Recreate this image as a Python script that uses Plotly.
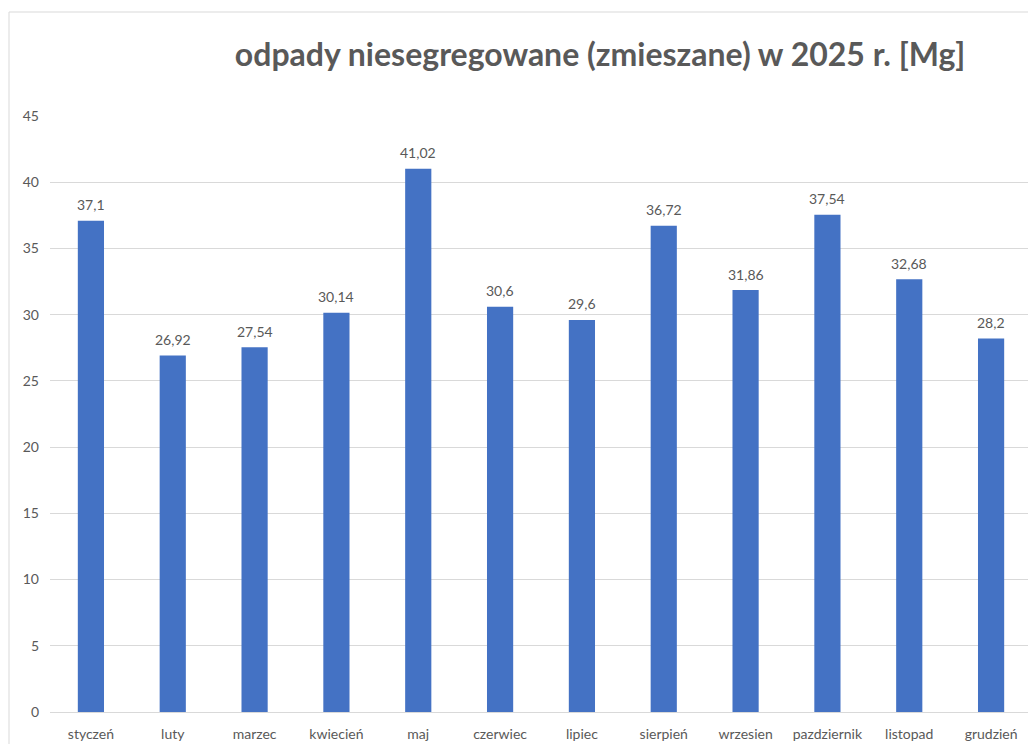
import plotly.graph_objects as go

months = ["styczeń", "luty", "marzec", "kwiecień", "maj", "czerwiec", "lipiec",
          "sierpień", "wrzesien", "pazdziernik", "listopad", "grudzień"]
values = [37.1, 26.92, 27.54, 30.14, 41.02, 30.6, 29.6, 36.72, 31.86, 37.54, 32.68, 28.2]
labels = [f"{v:g}".replace(".", ",") for v in values]
title_text = "odpady niesegregowane (zmieszane) w 2025 r. [Mg]"

grey = "#595959"

fig = go.Figure(go.Bar(
    x=months, y=values,
    marker=dict(color="#4472C4", line=dict(width=0)),
    width=0.32,
))

for m, v, t in zip(months, values, labels):
    fig.add_annotation(x=m, y=v, text=t, showarrow=False, yanchor="middle",
                       yshift=16, font=dict(family="Lato", size=14, color=grey))

fig.update_layout(
    width=1028, height=736,
    margin=dict(l=42, r=4, t=108, b=32),
    paper_bgcolor="white", plot_bgcolor="white",
    font=dict(family="Lato", size=14, color=grey),
    title=dict(text=f"<b>{title_text}</b>", x=0.576, xanchor="center", y=0.936, yanchor="middle",
               font=dict(family="Lato", size=32, color=grey)),
    showlegend=False,
    xaxis=dict(showgrid=False, showline=False, ticks="", ticklabelstandoff=12, automargin=False,
               tickfont=dict(size=14, color=grey)),
    yaxis=dict(range=[0, 45], dtick=5, showgrid=True, gridcolor="#D9D9D9", gridwidth=1,
               zeroline=True, zerolinecolor="#D9D9D9", zerolinewidth=1, automargin=False,
               showline=False, ticks="", ticklabelstandoff=10,
               tickfont=dict(size=14, color=grey)),
    shapes=[dict(type="rect", xref="paper", yref="paper",
                 x0=(1 - 42) / 982, x1=1.1, y0=-0.2, y1=(704 - 4) / 596,
                 line=dict(color="#D9D9D9", width=1), fillcolor="rgba(0,0,0,0)", layer="below")],
)

fig.write_html("out.html")
